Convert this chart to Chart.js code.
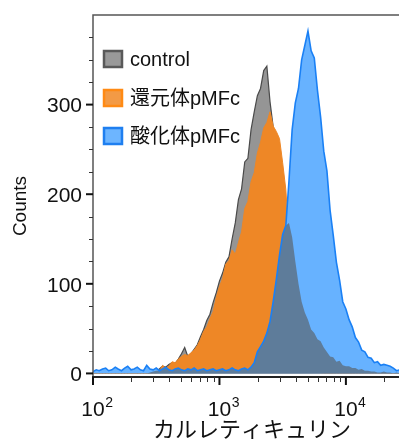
<!DOCTYPE html>
<html>
<head>
<meta charset="utf-8">
<script src="https://cdn.jsdelivr.net/npm/chart.js@4.4.1/dist/chart.umd.min.js"></script>
<style>
html,body{margin:0;padding:0;background:#fff;}
#c{display:block;}
</style>
</head>
<body>
<canvas id="c" width="399" height="439"></canvas>
<script>
// Bin centres (channel value, log-spaced)
const xBins = [100,106,112,119,126,133,141,150,158,168,178,188,200,211,224,237,251,266,282,299,
316,335,355,376,398,422,447,473,501,531,562,596,631,668,708,750,794,841,891,944,
1000,1059,1122,1189,1259,1334,1413,1496,1585,1679,1778,1884,1995,2113,2239,2371,2512,2661,2818,2985,
3162,3350,3548,3758,3981,4217,4467,4732,5012,5309,5623,5957,6310,6683,7079,7499,7943,8414,8913,9441,
10000,10593,11220,11885,12589,13335,14125,14962,15849,16788,17783,18836,19953,21135,22387,23714,25119,26607];

const controlCounts = [0,0,0,0,0,0,0,0,0,0,0,0,0,0,0,0,0,0,1,2,
3,5,8,7,10,12,11,16,22,29,19,22,27,32,41,49,59,66,79,90,
103,112,124,130,150,168,194,206,236,240,272,292,310,318,338,343,303,275,250,225,
195,178,168,152,125,100,80,68,60,49,45,38,36,29,24,19,18,13,14,9,
8,8,6,6,4,5,3,3,2,2,1,1,2,1,1,0,1,0];

const reducedCounts = [0,0,0,0,0,0,0,0,0,0,0,0,0,0,0,0,0,0,0,0,
0,2,9,6,8,13,12,16,19,21,20,23,26,31,38,47,52,61,69,85,
97,106,122,126,138,133,146,158,184,192,214,224,246,258,274,280,292,276,270,262,
235,205,150,100,60,35,20,10,5,3,2,1,1,0,0,0,0,0,0,0,
0,0,0,0,0,0,0,0,0,0,0,0,0,0,0,0,0,0];

const oxidizedCounts = [2,4,3,5,6,3,4,7,5,3,6,8,4,5,7,4,3,9,5,4,
6,3,5,7,4,3,5,6,4,3,5,4,6,3,4,5,3,4,5,3,
4,5,3,4,6,4,3,5,6,4,7,12,24,30,36,45,58,80,105,132,
155,165,215,272,302,318,350,366,382,360,352,316,286,248,226,182,154,124,104,80,
72,60,52,40,35,26,24,18,17,12,13,9,10,9,8,6,3,4];

const seriesNames = ['control', '還元体pMFc', '酸化体pMFc'];
const yTickValues = [0, 100, 200, 300];
const yMinorTickValues = [25,50,75,125,150,175,225,250,275,325,350,375];
const xTickValues = [100, 1000, 10000];
const xTickExponents = ['2', '3', '4'];
const xMinorTickValues = [200,300,400,500,600,700,800,900,2000,3000,4000,5000,6000,7000,8000,9000,20000];

const toPts = arr => xBins.map((x, i) => ({x: x, y: arr[i]}));
const overlapCounts = controlCounts.map((v, i) => Math.min(v, oxidizedCounts[i]));

const FONT = '"Liberation Sans", Arial, "Noto Sans CJK JP", sans-serif';

const decor = {
  id: 'decor',
  afterDraw(chart) {
    const ctx = chart.ctx;
    const {left, top, right, bottom} = chart.chartArea;
    const xs = chart.scales.x, ys = chart.scales.y;
    ctx.save();
    // frame lines
    ctx.strokeStyle = '#555';
    ctx.lineWidth = 1.5;
    ctx.beginPath();
    ctx.moveTo(left, bottom); ctx.lineTo(left, top); ctx.lineTo(right, top);
    ctx.stroke();
    ctx.strokeStyle = '#222';
    ctx.lineWidth = 2;
    ctx.beginPath();
    ctx.moveTo(left - 1, bottom); ctx.lineTo(right, bottom);
    ctx.stroke();
    // y ticks
    ctx.strokeStyle = '#333';
    ctx.lineWidth = 1;
    yMinorTickValues.forEach(v => {
      const p = Math.round(ys.getPixelForValue(v)) + 0.5;
      ctx.beginPath(); ctx.moveTo(left - 4, p); ctx.lineTo(left, p); ctx.stroke();
    });
    ctx.strokeStyle = '#111';
    ctx.lineWidth = 2;
    yTickValues.forEach(v => {
      const p = ys.getPixelForValue(v);
      ctx.beginPath(); ctx.moveTo(left - 7, p); ctx.lineTo(left, p); ctx.stroke();
    });
    // x ticks
    ctx.strokeStyle = '#333';
    ctx.lineWidth = 1;
    xMinorTickValues.forEach(v => {
      const p = Math.round(xs.getPixelForValue(v)) + 0.5;
      ctx.beginPath(); ctx.moveTo(p, bottom); ctx.lineTo(p, bottom + 5); ctx.stroke();
    });
    ctx.strokeStyle = '#111';
    ctx.lineWidth = 2;
    xTickValues.forEach(v => {
      const p = xs.getPixelForValue(v);
      ctx.beginPath(); ctx.moveTo(p, bottom); ctx.lineTo(p, bottom + 8); ctx.stroke();
    });
    // y tick labels
    ctx.fillStyle = '#111';
    ctx.font = '21px ' + FONT;
    ctx.textAlign = 'right';
    ctx.textBaseline = 'middle';
    yTickValues.forEach(v => {
      ctx.fillText(String(v), left - 11, ys.getPixelForValue(v) + 2);
    });
    // x tick labels 10^n
    xTickValues.forEach((v, i) => {
      const p = xs.getPixelForValue(v);
      ctx.font = '21px ' + FONT;
      ctx.textAlign = 'center';
      ctx.textBaseline = 'alphabetic';
      ctx.fillText('10', p, 416);
      const w = ctx.measureText('10').width;
      ctx.font = '14px ' + FONT;
      ctx.textAlign = 'left';
      ctx.fillText(xTickExponents[i], p + w / 2 + 0.5, 407);
    });
    // axis titles
    ctx.save();
    ctx.translate(21, 206);
    ctx.rotate(-Math.PI / 2);
    ctx.font = '19px ' + FONT;
    ctx.textAlign = 'center';
    ctx.textBaseline = 'middle';
    ctx.fillText('Counts', 0, 0);
    ctx.restore();
    ctx.font = '22px "Noto Sans CJK JP", sans-serif';
    ctx.textAlign = 'center';
    ctx.textBaseline = 'alphabetic';
    ctx.fillText('カルレティキュリン', 252, 437);
    // legend
    const legendFill = ['#999999', '#f39a45', '#6db5ff'];
    const legendStroke = ['#595959', '#ff8a14', '#1f7ff0'];
    const legendY = [59, 98, 136];
    seriesNames.forEach((name, i) => {
      const cy = legendY[i];
      ctx.fillStyle = legendFill[i];
      ctx.fillRect(104, cy - 8, 18, 16);
      ctx.strokeStyle = legendStroke[i];
      ctx.lineWidth = 2.5;
      ctx.strokeRect(104, cy - 8, 18, 16);
      ctx.fillStyle = '#111';
      ctx.font = '20px ' + FONT;
      ctx.textAlign = 'left';
      ctx.textBaseline = 'middle';
      ctx.fillText(name, 130, cy + 1);
    });
    ctx.restore();
  }
};

const common = {pointRadius: 0, tension: 0, fill: 'origin'};

new Chart(document.getElementById('c'), {
  type: 'line',
  data: {
    datasets: [
      Object.assign({label: seriesNames[0], data: toPts(controlCounts), backgroundColor: '#959595', borderColor: '#4a4a4a', borderWidth: 1.2, order: 5}, common),
      Object.assign({label: seriesNames[1], data: toPts(reducedCounts), backgroundColor: '#ee8726', borderColor: '#ee8726', borderWidth: 1, order: 4}, common),
      Object.assign({label: seriesNames[2], data: toPts(oxidizedCounts), backgroundColor: '#67b2ff', borderColor: 'rgba(0,0,0,0)', borderWidth: 0, order: 3}, common),
      Object.assign({label: 'overlap', data: toPts(overlapCounts), backgroundColor: '#5e7c9a', borderColor: 'rgba(0,0,0,0)', borderWidth: 0, order: 2}, common),
      {label: 'edge', data: toPts(oxidizedCounts), pointRadius: 0, tension: 0, fill: false, borderColor: '#1a80f5', borderWidth: 1.6, order: 1}
    ]
  },
  options: {
    responsive: false,
    animation: false,
    devicePixelRatio: 1,
    layout: {padding: {left: 93, top: 15, right: 0, bottom: 62}},
    plugins: {legend: {display: false}, tooltip: {enabled: false}},
    scales: {
      x: {type: 'logarithmic', min: 100, max: 26300, display: false},
      y: {type: 'linear', min: -4, max: 400, display: false}
    }
  },
  plugins: [decor]
});
</script>
</body>
</html>
